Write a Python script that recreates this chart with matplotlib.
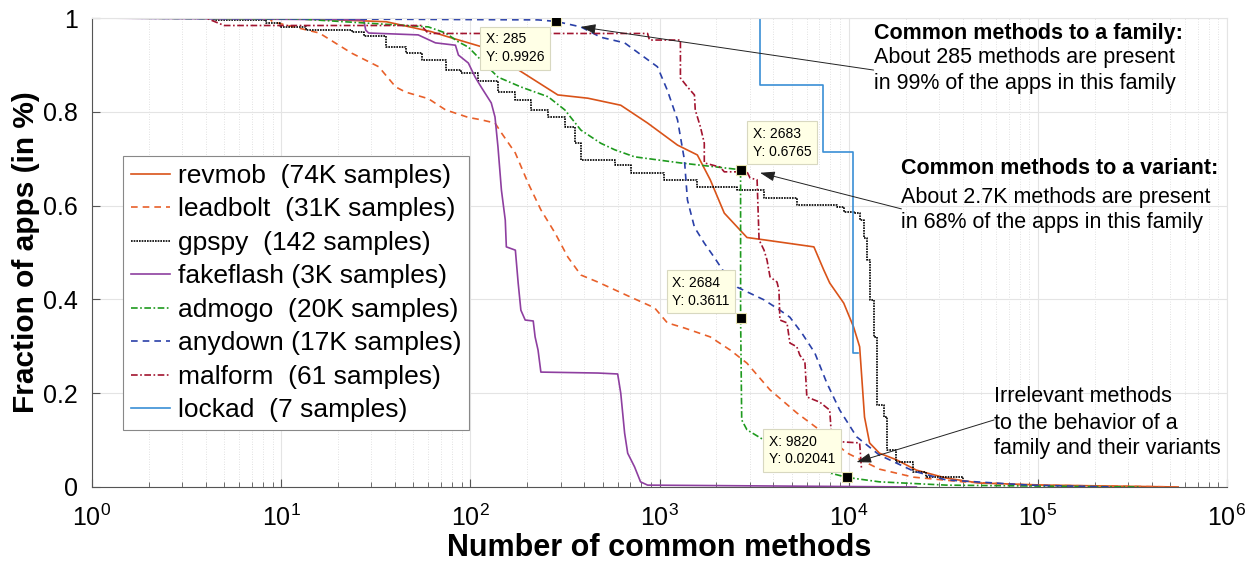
import numpy as np
import matplotlib
matplotlib.use('Agg')
import matplotlib.pyplot as plt
from matplotlib.ticker import LogLocator, FixedLocator, NullFormatter

# ---------------- data ----------------
revmob_x = [1, 10, 20, 36, 62, 76, 114, 185, 290, 418, 624, 865, 1245, 1585, 1855, 2200,
            2900, 3570, 6550, 7380, 7940, 9420, 10620, 11430, 12130, 12900, 14550, 17900,
            22800, 32800, 48900, 110000, 552000]
revmob_y = [1, 1, 0.996, 0.992, 0.971, 0.960, 0.939, 0.886, 0.836, 0.829, 0.814, 0.776,
            0.729, 0.708, 0.655, 0.584, 0.532, 0.527, 0.512, 0.463, 0.435, 0.392, 0.341,
            0.299, 0.149, 0.094, 0.072, 0.058, 0.036, 0.019, 0.0085, 0.004, 0.0]

leadbolt_x = [1, 8.6, 9, 15.9, 23.6, 32.8, 40.3, 45.5, 60, 74, 97.6, 114, 135, 146, 173,
              202, 236, 280, 328, 384, 472, 703, 942, 1100, 1355, 1855, 2365, 2900, 3840,
              5320, 7380, 9760, 14550, 22000, 40300, 89700, 566000]
leadbolt_y = [1, 1, 0.992, 0.968, 0.925, 0.896, 0.853, 0.842, 0.828, 0.804, 0.788, 0.783,
              0.776, 0.755, 0.712, 0.648, 0.591, 0.542, 0.490, 0.452, 0.437, 0.405, 0.382,
              0.350, 0.339, 0.320, 0.292, 0.264, 0.207, 0.158, 0.115, 0.073, 0.038, 0.021,
              0.011, 0.004, 0.0]

gpspy_x = [1, 4.4, 8.3, 9.8, 13.5, 23.6, 27.3, 35.7, 45.5, 55.2, 74, 89.7, 110, 140, 173,
           210, 258, 316, 357, 384, 580, 703, 1062, 1585, 2575, 3570, 5320, 8650, 9420,
           10620, 11430, 12000, 12450, 12900, 13550, 14040, 15290, 16040, 17900, 22000,
           25750, 40300]
gpspy_y = [1, 0.996, 0.989, 0.981, 0.974, 0.970, 0.962, 0.938, 0.925, 0.910, 0.889, 0.883,
           0.866, 0.842, 0.826, 0.804, 0.789, 0.768, 0.733, 0.697, 0.687, 0.670, 0.655,
           0.640, 0.633, 0.616, 0.602, 0.598, 0.586, 0.584, 0.569, 0.531, 0.484, 0.399,
           0.320, 0.175, 0.149, 0.079, 0.053, 0.032, 0.021, 0.017]

fakeflash_x = [1, 27.3, 28, 29, 53, 65.4, 83.4, 86.5, 97.6, 106, 114, 129, 135, 140, 146,
               153, 155, 173, 179, 185, 195, 215, 220, 228, 236, 472, 601, 624, 654, 679,
               738, 794, 865, 22800]
fakeflash_y = [1, 0.996, 0.974, 0.968, 0.964, 0.947, 0.942, 0.921, 0.904, 0.874, 0.853,
               0.819, 0.789, 0.725, 0.633, 0.569, 0.512, 0.505, 0.435, 0.377, 0.356, 0.354,
               0.320, 0.292, 0.245, 0.243, 0.241, 0.200, 0.115, 0.072, 0.043, 0.011, 0.004,
               0.0]

admogo_x = [1, 12.4, 60, 74, 86.5, 97.6, 114, 140, 185, 258, 316, 384, 489, 580, 738, 1290,
            2683, 2684, 2720, 2900, 3570, 4330, 5320, 6550, 7940, 9820, 14550, 32800,
            164000, 352000]
admogo_y = [1, 0.998, 0.981, 0.968, 0.949, 0.938, 0.910, 0.874, 0.853, 0.832, 0.804, 0.761,
            0.733, 0.719, 0.704, 0.691, 0.6765, 0.3611, 0.143, 0.122, 0.100, 0.085, 0.058,
            0.051, 0.030, 0.02041, 0.011, 0.004, 0.001, 0.0]

anydown_x = [1, 228, 285, 384, 489, 654, 975, 1100, 1245, 1355, 1405, 1530, 1725, 1945,
             2280, 2575, 3570, 4330, 4890, 5660, 6620, 7660, 8970, 11020, 14550, 22000,
             32800, 89700, 245000]
anydown_y = [1, 0.996, 0.9926, 0.981, 0.959, 0.947, 0.896, 0.846, 0.783, 0.697, 0.612,
             0.554, 0.520, 0.490, 0.448, 0.426, 0.399, 0.377, 0.362, 0.328, 0.286, 0.222,
             0.164, 0.107, 0.068, 0.034, 0.015, 0.004, 0.0]

malform_x = [1, 4, 5, 55, 60, 865, 885, 1290, 1290, 1405, 1530, 1545, 1645, 1725, 1725,
             2094, 2200, 2900, 3010, 3280, 3360, 3570, 3700, 3840, 4180, 4280, 4330, 4720,
             4890, 5320, 5520, 5870, 6010, 7030, 7940, 8140, 9420, 11430, 11700]
malform_y = [1, 1, 0.984, 0.984, 0.967, 0.967, 0.953, 0.953, 0.872, 0.853, 0.836, 0.804,
             0.768, 0.733, 0.691, 0.682, 0.672, 0.672, 0.659, 0.655, 0.527, 0.505, 0.484,
             0.448, 0.437, 0.420, 0.356, 0.350, 0.307, 0.299, 0.281, 0.267, 0.192, 0.181,
             0.164, 0.100, 0.096, 0.094, 0.036]

lockad_x = [1, 3400, 3400, 7300, 7300, 10600, 10600, 11150]
lockad_y = [1, 1, 6 / 7, 6 / 7, 5 / 7, 5 / 7, 2 / 7, 2 / 7]

labels = ["revmob  (74K samples)", "leadbolt  (31K samples)", "gpspy  (142 samples)",
          "fakeflash (3K samples)", "admogo  (20K samples)", "anydown (17K samples)",
          "malform  (61 samples)", "lockad  (7 samples)"]

tips_x = [285, 2683, 2684, 9820]
tips_y = [0.9926, 0.6765, 0.3611, 0.02041]

yticks = [0, 0.2, 0.4, 0.6, 0.8, 1]
ytick_labels = ["0", "0.2", "0.4", "0.6", "0.8", "1"]

# ---------------- style ----------------
plt.rcParams['font.family'] = ['Liberation Sans', 'DejaVu Sans']
plt.rcParams['mathtext.fontset'] = 'custom'
plt.rcParams['mathtext.rm'] = 'Liberation Sans'
plt.rcParams['mathtext.it'] = 'Liberation Sans:italic'
plt.rcParams['mathtext.bf'] = 'Liberation Sans:bold'

fig = plt.figure(figsize=(12.55, 5.67), dpi=100)
ax = fig.add_axes([92 / 1255, 80 / 567, (1227 - 92) / 1255, (487 - 18) / 567])

lw = 1.2
series = [
    (revmob_x, revmob_y, dict(color='#D95319', ls='-')),
    (leadbolt_x, leadbolt_y, dict(color='#E8602A', ls=(0, (4, 3)))),
    (gpspy_x, gpspy_y, dict(color='black', ls=(0, (1, 0.6)), drawstyle='steps-post')),
    (fakeflash_x, fakeflash_y, dict(color='#8E3FA0', ls='-')),
    (admogo_x, admogo_y, dict(color='#1E9A1E', ls=(0, (4, 1.5, 1, 1.5)))),
    (anydown_x, anydown_y, dict(color='#2A40A8', ls=(0, (4, 3)))),
    (malform_x, malform_y, dict(color='#A2142F', ls=(0, (4, 1.5, 1, 1.5)))),
    (lockad_x, lockad_y, dict(color='#3A8FD6', ls='-')),
]
handles = []
for (xs, ys, kw), lab in zip(series, labels):
    h, = ax.plot(xs, ys, lw=lw, label=lab, **kw)
    handles.append(h)

ax.set_xscale('log')
ax.set_xlim(1, 1e6)
ax.set_ylim(0, 1)

ax.xaxis.set_major_locator(LogLocator(base=10, numticks=10))
ax.xaxis.set_minor_locator(LogLocator(base=10, subs=np.arange(2, 10), numticks=100))
ax.xaxis.set_minor_formatter(NullFormatter())
ax.yaxis.set_major_locator(FixedLocator(yticks))
ax.set_yticklabels(ytick_labels)

ax.grid(True, which='major', axis='both', color='#e4e4e4', lw=0.8, ls='-')
ax.grid(True, which='minor', axis='x', color='#d8d8d8', lw=0.6, ls=(0, (1, 2)))
ax.set_axisbelow(True)

for s in ['top', 'right']:
    ax.spines[s].set_color('#e4e4e4')
    ax.spines[s].set_linewidth(0.8)
for s in ['bottom', 'left']:
    ax.spines[s].set_color('#555555')
    ax.spines[s].set_linewidth(0.8)

ax.tick_params(axis='both', which='major', direction='in', length=6, width=0.8,
               color='#555555', labelsize=18, top=False, right=False)
ax.tick_params(axis='x', which='major', pad=13)
ax.tick_params(axis='y', which='major', pad=10)
ax.tick_params(axis='x', which='minor', direction='in', length=3.5, width=0.6,
               color='#555555', top=False)

ax.set_xlabel('Number of common methods', fontsize=22, fontweight='bold', labelpad=1)
ax.set_ylabel('Fraction of apps (in %)', fontsize=21.5, fontweight='bold', labelpad=2)

leg = ax.legend(handles=handles, loc='upper left', bbox_to_anchor=(0.027, 0.706),
                borderaxespad=0, fontsize=19, fancybox=False, framealpha=1,
                edgecolor='#888888', handlelength=1.5, handletextpad=0.3,
                labelspacing=0.36, borderpad=0.3)
leg.get_frame().set_linewidth(0.8)

# data tips
ax.plot(tips_x, tips_y, ls='none', marker='s', ms=6.5, mfc='black', mec='#e8e4b0', mew=0.8,
        zorder=6)
tip_offsets = [(-12, -11, 'right', 'top'), (12, 11, 'left', 'bottom'),
               (-11, 10, 'right', 'bottom'), (-12, 11, 'right', 'bottom')]
for tx, ty, (dx, dy, ha, va) in zip(tips_x, tips_y, tip_offsets):
    ax.annotate(f"X: {tx}\nY: {ty:.4g}", xy=(tx, ty), xytext=(dx, dy),
                textcoords='offset pixels', ha=ha, va=va, multialignment='left',
                fontsize=10, linespacing=1.35,
                bbox=dict(boxstyle='square,pad=0.4', fc='#FFFFE6', ec='#d8d8c0', lw=0.8),
                zorder=7)

# annotations
arrow_kw = dict(arrowstyle='-|>,head_length=0.9,head_width=0.3', color='#222222', lw=0.7,
                shrinkA=0, shrinkB=0)
ax.annotate('', xy=(384, 0.981), xytext=(13550, 0.889), arrowprops=arrow_kw, zorder=8)
ax.annotate('', xy=(3400, 0.670), xytext=(19000, 0.593), arrowprops=arrow_kw, zorder=8)
ax.annotate('', xy=(11000, 0.053), xytext=(58700, 0.143), arrowprops=arrow_kw, zorder=8)

tfs = 15.5
ax.text(13550, 0.968, 'Common methods to a family:', fontsize=tfs, fontweight='bold',
        va='center', ha='left')
ax.text(13550, 0.915, 'About 285 methods are present', fontsize=tfs, va='center', ha='left')
ax.text(13550, 0.860, 'in 99% of the apps in this family', fontsize=tfs, va='center', ha='left')

ax.text(19000, 0.680, 'Common methods to a variant:', fontsize=tfs, fontweight='bold',
        va='center', ha='left')
ax.text(19000, 0.618, 'About 2.7K methods are present', fontsize=tfs, va='center', ha='left')
ax.text(19000, 0.563, 'in 68% of the apps in this family', fontsize=tfs, va='center', ha='left')

ax.text(58700, 0.192, 'Irrelevant methods', fontsize=tfs, va='center', ha='left')
ax.text(58700, 0.136, 'to the behavior of a', fontsize=tfs, va='center', ha='left')
ax.text(58700, 0.083, 'family and their variants', fontsize=tfs, va='center', ha='left')

fig.savefig('out.png', dpi=100)
